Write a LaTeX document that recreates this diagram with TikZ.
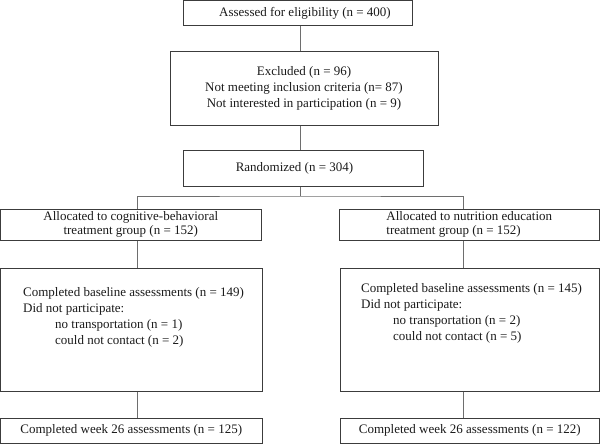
\documentclass[tikz,border=0pt]{standalone}
\usepackage{fontspec}
\setmainfont{Liberation Serif}
\definecolor{boxc}{HTML}{3C3C3C}
\definecolor{linkc}{HTML}{6E6E6E}
\definecolor{txt}{HTML}{1A1A1A}
\begin{document}
\begin{tikzpicture}[x=1pt,y=-1pt,
  box/.style={draw=boxc, line width=1pt, inner sep=0pt, rectangle, text=txt},
  link/.style={draw=linkc, line width=1pt},
  body/.style={inner sep=0pt, text=txt, align=left, anchor=north west},
  font=\fontsize{13}{16}\selectfont]
\useasboundingbox (0,0) rectangle (600,444);
% boxes
\node[box, minimum width=229pt, minimum height=25.5pt] (b1) at (297.5,13.25)
  {\hspace*{15pt}Assessed for eligibility (n = 400)};
\node[box, minimum width=268pt, minimum height=73pt, align=center] (b2) at (304,88.5)
  {Excluded (n = 96)\\Not meeting inclusion criteria (n= 87)\\Not interested in participation (n = 9)};
\node[box, minimum width=240pt, minimum height=36pt] (b3) at (303,168)
  {Randomized (n = 304)\hspace*{17pt}};
\node[box, minimum width=260.5pt, minimum height=31pt, align=center,
  font=\fontsize{13}{13.5}\selectfont] (b4) at (130.75,224.5)
  {Allocated to cognitive-behavioral\\treatment group (n = 152)};
\node[box, minimum width=260.5pt, minimum height=31pt, align=left,
  font=\fontsize{13}{13.5}\selectfont] (b6) at (469.25,224.5)
  {Allocated to nutrition education\\treatment group (n = 152)};
\node[box, minimum width=261.5pt, minimum height=123pt] (b5) at (131.25,329.5) {};
\node[box, minimum width=259.5pt, minimum height=123pt] (b7) at (469.75,329.5) {};
\node[body] (t5) at (23,287)
  {Completed baseline assessments (n = 149)\\Did not participate:\\
   \hspace*{32pt}no transportation (n = 1)\\\hspace*{32pt}could not contact (n = 2)};
\node[body] (t7) at (361,283)
  {Completed baseline assessments (n = 145)\\Did not participate:\\
   \hspace*{32pt}no transportation (n = 2)\\\hspace*{32pt}could not contact (n = 5)};
\node[box, minimum width=261.5pt, minimum height=25pt] (b8) at (131.25,430.5)
  {Completed week 26 assessments (n = 125)};
\node[box, minimum width=259.5pt, minimum height=25pt] (b9) at (469.75,430.5)
  {Completed week 26 assessments (n = 122)};
% connector guides
\coordinate (mx) at (300,0);
\coordinate (lx) at (137,0);
\coordinate (rx) at (463,0);
\coordinate (split) at (300,196);
% connectors
\draw[link] (b1.south -| mx) -- (b2.north -| mx);
\draw[link] (b2.south -| mx) -- (b3.north -| mx);
\draw[link] (b3.south -| mx) -- (split);
\draw[link] (b4.north -| lx) |- (split) -| (b6.north -| rx);
\draw[link] (b4.south -| lx) -- (b5.north -| lx);
\draw[link] (b6.south -| rx) -- (b7.north -| rx);
\draw[link] (b5.south -| lx) -- (b8.north -| lx);
\draw[link] (b7.south -| rx) -- (b9.north -| rx);
\end{tikzpicture}
\end{document}
